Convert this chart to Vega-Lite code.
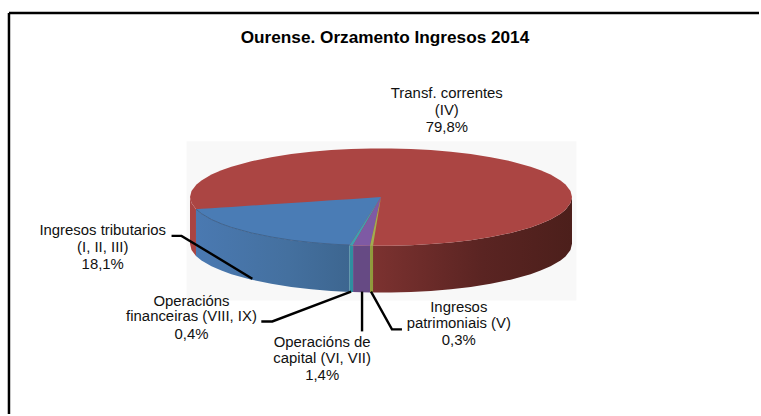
{
"$schema":"https://vega.github.io/schema/vega-lite/v6.json",
"width":761,"height":416,"autosize":{"type":"fit","contains":"padding"},"padding":0,
"background":"white","view":{"stroke":null},
"datasets":{
"backdrop":[{"x":-195,"x2":196,"y":56,"y2":-104}],
"walls":[
{"part":"wallRedLeft","x":-191.5,"y":0,"y2":-47},{"part":"wallRedLeft","x":-190,"y":-6.1,"y2":-53.1},{"part":"wallRedLeft","x":-185.5,"y":-12.2,"y2":-59.2},
{"part":"wallBlue","x":-185.5,"y":-12.2,"y2":-59.2},{"part":"wallBlue","x":-180,"y":-16.7,"y2":-63.7},{"part":"wallBlue","x":-170,"y":-22.6,"y2":-69.6},{"part":"wallBlue","x":-160,"y":-26.9,"y2":-73.9},{"part":"wallBlue","x":-150,"y":-30.5,"y2":-77.5},{"part":"wallBlue","x":-130,"y":-36,"y2":-83},{"part":"wallBlue","x":-110,"y":-40.1,"y2":-87.1},{"part":"wallBlue","x":-90,"y":-43.3,"y2":-90.3},{"part":"wallBlue","x":-70,"y":-45.6,"y2":-92.6},{"part":"wallBlue","x":-50,"y":-47.3,"y2":-94.3},{"part":"wallBlue","x":-31.5,"y":-48.3,"y2":-95.3},
{"part":"wallRedRight","x":-8,"y":-49,"y2":-96},{"part":"wallRedRight","x":10,"y":-48.9,"y2":-95.9},{"part":"wallRedRight","x":30,"y":-48.4,"y2":-95.4},{"part":"wallRedRight","x":50,"y":-47.3,"y2":-94.3},{"part":"wallRedRight","x":70,"y":-45.6,"y2":-92.6},{"part":"wallRedRight","x":90,"y":-43.3,"y2":-90.3},{"part":"wallRedRight","x":110,"y":-40.1,"y2":-87.1},{"part":"wallRedRight","x":130,"y":-36,"y2":-83},{"part":"wallRedRight","x":150,"y":-30.5,"y2":-77.5},{"part":"wallRedRight","x":160,"y":-26.9,"y2":-73.9},{"part":"wallRedRight","x":170,"y":-22.6,"y2":-69.6},{"part":"wallRedRight","x":180,"y":-16.7,"y2":-63.7},{"part":"wallRedRight","x":185,"y":-12.7,"y2":-59.7},{"part":"wallRedRight","x":190,"y":-6.1,"y2":-53.1},{"part":"wallRedRight","x":191.5,"y":0,"y2":-47}
],
"flat":[
{"part":"a wallTeal","x":-31.5,"y":-48.3,"y2":-95.3},{"part":"a wallTeal","x":-28,"y":-48.4,"y2":-95.4},
{"part":"b wallPurple","x":-28,"y":-48.4,"y2":-95.4},{"part":"b wallPurple","x":-11,"y":-48.9,"y2":-95.9},
{"part":"c wallYellow","x":-11,"y":-48.9,"y2":-95.9},{"part":"c wallYellow","x":-8,"y":-49,"y2":-96},
{"part":"d Transf. correntes","x":-191.5,"y":0,"y2":0},{"part":"d Transf. correntes","x":-190,"y":6.1,"y2":-6.1},{"part":"d Transf. correntes","x":-185,"y":12.7,"y2":-12.7},{"part":"d Transf. correntes","x":-180,"y":16.7,"y2":-16.7},{"part":"d Transf. correntes","x":-170,"y":22.6,"y2":-22.6},{"part":"d Transf. correntes","x":-160,"y":26.9,"y2":-26.9},{"part":"d Transf. correntes","x":-150,"y":30.5,"y2":-30.5},{"part":"d Transf. correntes","x":-130,"y":36,"y2":-36},{"part":"d Transf. correntes","x":-110,"y":40.1,"y2":-40.1},{"part":"d Transf. correntes","x":-90,"y":43.3,"y2":-43.3},{"part":"d Transf. correntes","x":-70,"y":45.6,"y2":-45.6},{"part":"d Transf. correntes","x":-50,"y":47.3,"y2":-47.3},{"part":"d Transf. correntes","x":-30,"y":48.4,"y2":-48.4},{"part":"d Transf. correntes","x":-10,"y":48.9,"y2":-48.9},{"part":"d Transf. correntes","x":10,"y":48.9,"y2":-48.9},{"part":"d Transf. correntes","x":30,"y":48.4,"y2":-48.4},{"part":"d Transf. correntes","x":50,"y":47.3,"y2":-47.3},{"part":"d Transf. correntes","x":70,"y":45.6,"y2":-45.6},{"part":"d Transf. correntes","x":90,"y":43.3,"y2":-43.3},{"part":"d Transf. correntes","x":110,"y":40.1,"y2":-40.1},{"part":"d Transf. correntes","x":130,"y":36,"y2":-36},{"part":"d Transf. correntes","x":150,"y":30.5,"y2":-30.5},{"part":"d Transf. correntes","x":160,"y":26.9,"y2":-26.9},{"part":"d Transf. correntes","x":170,"y":22.6,"y2":-22.6},{"part":"d Transf. correntes","x":180,"y":16.7,"y2":-16.7},{"part":"d Transf. correntes","x":185,"y":12.7,"y2":-12.7},{"part":"d Transf. correntes","x":190,"y":6.1,"y2":-6.1},{"part":"d Transf. correntes","x":191.5,"y":0,"y2":0},
{"part":"e Ingresos tributarios","x":-185.5,"y":-12.2,"y2":-12.2},{"part":"e Ingresos tributarios","x":-180,"y":-11.8,"y2":-16.7},{"part":"e Ingresos tributarios","x":-170,"y":-11.2,"y2":-22.6},{"part":"e Ingresos tributarios","x":-160,"y":-10.5,"y2":-26.9},{"part":"e Ingresos tributarios","x":-150,"y":-9.9,"y2":-30.5},{"part":"e Ingresos tributarios","x":-130,"y":-8.6,"y2":-36},{"part":"e Ingresos tributarios","x":-110,"y":-7.2,"y2":-40.1},{"part":"e Ingresos tributarios","x":-90,"y":-5.9,"y2":-43.3},{"part":"e Ingresos tributarios","x":-70,"y":-4.6,"y2":-45.6},{"part":"e Ingresos tributarios","x":-50,"y":-3.3,"y2":-47.3},{"part":"e Ingresos tributarios","x":-31.5,"y":-2.1,"y2":-48.3},{"part":"e Ingresos tributarios","x":0,"y":0,"y2":0},
{"part":"f Operacions financeiras","x":-31.5,"y":-48.3,"y2":-48.3},{"part":"f Operacions financeiras","x":-28,"y":-42.9,"y2":-48.4},{"part":"f Operacions financeiras","x":0,"y":0,"y2":0},
{"part":"g Operacions capital","x":-28,"y":-48.4,"y2":-48.4},{"part":"g Operacions capital","x":-11,"y":-19,"y2":-48.9},{"part":"g Operacions capital","x":0,"y":0,"y2":0},
{"part":"h Ingresos patrimoniais","x":-11,"y":-48.9,"y2":-48.9},{"part":"h Ingresos patrimoniais","x":-8,"y":-35.6,"y2":-49},{"part":"h Ingresos patrimoniais","x":0,"y":0,"y2":0}
],
"leaders":[
{"id":"1","n":1,"x":-210,"y":-39},{"id":"1","n":2,"x":-200,"y":-39},{"id":"1","n":3,"x":-129,"y":-82},
{"id":"2","n":1,"x":-120,"y":-125},{"id":"2","n":2,"x":-109,"y":-125},{"id":"2","n":3,"x":-30,"y":-95},
{"id":"3","n":1,"x":-19,"y":-95},{"id":"3","n":2,"x":-19,"y":-135},
{"id":"4","n":1,"x":-10,"y":-95},{"id":"4","n":2,"x":11,"y":-133},{"id":"4","n":3,"x":21,"y":-133}
],
"labels":[
{"x":66,"y":104,"text":"Transf. correntes"},{"x":66,"y":86,"text":"(IV)"},{"x":66,"y":69,"text":"79,8%"},
{"x":-279,"y":-34,"text":"Ingresos tributarios"},{"x":-279,"y":-51,"text":"(I, II, III)"},{"x":-279,"y":-68,"text":"18,1%"},
{"x":-190,"y":-105,"text":"Operacións"},{"x":-190,"y":-121,"text":"financeiras (VIII, IX)"},{"x":-190,"y":-139,"text":"0,4%"},
{"x":-59,"y":-147,"text":"Operacións de"},{"x":-59,"y":-163,"text":"capital (VI, VII)"},{"x":-59,"y":-180,"text":"1,4%"},
{"x":78,"y":-111,"text":"Ingresos"},{"x":78,"y":-128,"text":"patrimoniais (V)"},{"x":78,"y":-145,"text":"0,3%"}
],
"titleRow":[{"x":4,"y":160,"text":"Ourense. Orzamento Ingresos 2014"}],
"frameTop":[{"x":-373,"x2":379,"y":185}],
"frameLeft":[{"x":-373,"y":185,"y2":-218}]
},
"encoding":{
"x":{"field":"x","type":"quantitative","scale":{"domain":[-382,379],"nice":false,"zero":false},"axis":null},
"y":{"field":"y","type":"quantitative","scale":{"domain":[-218,198],"nice":false,"zero":false},"axis":null}
},
"layer":[
{"data":{"name":"backdrop"},"mark":{"type":"rect","color":"#f8f8f8"},"encoding":{"x2":{"field":"x2"},"y2":{"field":"y2"}}},
{"data":{"name":"walls"},"transform":[{"filter":"datum.part==='wallRedLeft'"}],"mark":{"type":"area","color":"#a94442"},"encoding":{"y2":{"field":"y2"}}},
{"data":{"name":"walls"},"transform":[{"filter":"datum.part==='wallBlue'"}],"mark":{"type":"area","color":{"gradient":"linear","x1":0,"y1":0,"x2":1,"y2":0,"stops":[{"offset":0,"color":"#4a79b1"},{"offset":0.6,"color":"#44709f"},{"offset":1,"color":"#3d6690"}]}},"encoding":{"y2":{"field":"y2"}}},
{"data":{"name":"walls"},"transform":[{"filter":"datum.part==='wallRedRight'"}],"mark":{"type":"area","color":{"gradient":"linear","x1":0,"y1":0,"x2":1,"y2":0,"stops":[{"offset":0,"color":"#7c3230"},{"offset":0.55,"color":"#5a2422"},{"offset":1,"color":"#4c1f1b"}]}},"encoding":{"y2":{"field":"y2"}}},
{"data":{"name":"flat"},"mark":{"type":"area"},"encoding":{
"y":{"field":"y","type":"quantitative","stack":null},
"y2":{"field":"y2"},
"color":{"field":"part","type":"nominal","legend":null,"scale":{"domain":["a wallTeal","b wallPurple","c wallYellow","d Transf. correntes","e Ingresos tributarios","f Operacions financeiras","g Operacions capital","h Ingresos patrimoniais"],"range":["#2f8f9f","#664a84","#8f9a3c","#ab4543","#4a7cb5","#3fa0b0","#7e5aa4","#a0ae50"]}}}},
{"data":{"name":"flat"},"transform":[{"filter":"datum.part==='e Ingresos tributarios' && datum.x<0"}],"mark":{"type":"line","color":"#3d6590","strokeWidth":1},"encoding":{"y":{"field":"y2","type":"quantitative"}}},
{"data":{"name":"leaders"},"mark":{"type":"line","color":"black","strokeWidth":2.4},"encoding":{"detail":{"field":"id"},"order":{"field":"n","type":"quantitative"}}},
{"data":{"name":"labels"},"mark":{"type":"text","font":"Liberation Sans","fontSize":14.9,"color":"#111111","align":"center","baseline":"middle"},"encoding":{"text":{"field":"text"}}},
{"data":{"name":"titleRow"},"mark":{"type":"text","font":"Liberation Sans","fontSize":17.2,"fontWeight":"bold","color":"black","align":"center","baseline":"middle"},"encoding":{"text":{"field":"text"}}},
{"data":{"name":"frameTop"},"mark":{"type":"rule","color":"black","strokeWidth":2.5},"encoding":{"x2":{"field":"x2"}}},
{"data":{"name":"frameLeft"},"mark":{"type":"rule","color":"black","strokeWidth":2.5},"encoding":{"y2":{"field":"y2"}}}
]
}
